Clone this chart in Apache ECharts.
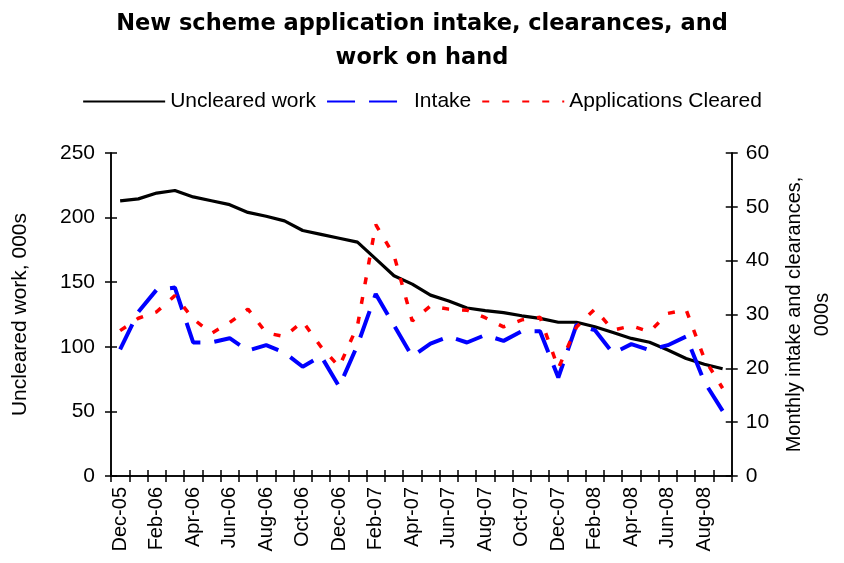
<!DOCTYPE html>
<html>
<head>
<meta charset="utf-8">
<script src="https://cdn.jsdelivr.net/npm/echarts@6/dist/echarts.min.js"></script>
<style>
  html, body { margin: 0; padding: 0; background: #fff; }
  #chart-container { width: 844px; height: 563px; }
</style>
</head>
<body>
<div id="chart-container"></div>
<script>
var dom = document.getElementById("chart-container");
var myChart = echarts.init(dom, null, { renderer: "canvas" });

// months, Dec-05 .. Sep-08
const months = [
  "Dec-05", "Jan-06", "Feb-06", "Mar-06", "Apr-06", "May-06", "Jun-06", "Jul-06",
  "Aug-06", "Sep-06", "Oct-06", "Nov-06", "Dec-06", "Jan-07", "Feb-07", "Mar-07",
  "Apr-07", "May-07", "Jun-07", "Jul-07", "Aug-07", "Sep-07", "Oct-07", "Nov-07",
  "Dec-07", "Jan-08", "Feb-08", "Mar-08", "Apr-08", "May-08", "Jun-08", "Jul-08",
  "Aug-08", "Sep-08"
];

// uncleared work (left axis, 000s)
const uncleared = [
  213, 214.5, 219, 221, 216, 213, 210, 204, 201, 197.5, 190, 187, 184, 181,
  168, 155, 148.5, 140, 135.5, 130, 128, 126.5, 124, 122, 119, 119, 115.5,
  111, 106.5, 103.5, 97.5, 91, 86.5, 83
];

// monthly intake (right axis, 000s)
const intake = [
  23.5, 30.5, 34.6, 35, 24.8, 24.8, 25.6, 23.3, 24.3, 22.9, 20.3, 22.3, 16.6,
  24.3, 33.8, 28, 22.2, 24.6, 25.9, 24.8, 26.2, 25.1, 26.9, 26.9, 18.3, 28.1,
  27.1, 22.8, 24.5, 23.4, 24.3, 25.9, 17.5, 12.1
];

// applications cleared (right axis, 000s)
const cleared = [
  27, 29.3, 30.5, 33.5, 29.2, 26.5, 28.5, 31, 26.6, 25.9, 28.7, 24, 20.3,
  27.9, 46.7, 41, 28.8, 31.6, 31, 30.8, 29.4, 27.7, 29, 29.5, 20, 27.7, 31,
  27.1, 27.9, 26.8, 30.2, 30.9, 21.8, 16.3
];

const leftTicks = [0, 250, 50];
const rightTicks = [0, 60, 10];

var font = "Arial, 'Liberation Sans', sans-serif";
var axisLine = { show: true, lineStyle: { color: "#000", width: 1.5 } };

// second axis on the same side, ticks drawn inwards so they cross the axis line
function tickAxis(side, range, inside) {
  return {
    type: "value",
    position: side,
    min: range[0],
    max: range[1],
    interval: range[2],
    axisLine: axisLine,
    axisTick: { show: true, inside: inside, length: 6, lineStyle: { color: "#000", width: 1.5 } },
    axisLabel: { show: false },
    splitLine: { show: false },
  };
}

var option = {
  backgroundColor: "#fff",
  animation: false,
  title: {
    text: "New scheme application intake, clearances, and\nwork on hand",
    left: "center",
    top: 2,
    textStyle: {
      fontFamily: "'DejaVu Sans', sans-serif",
      fontSize: 22.5,
      fontWeight: "bold",
      color: "#000",
      lineHeight: 34,
    },
  },
  legend: {
    top: 86,
    left: "center",
    itemWidth: 82,
    itemHeight: 12,
    itemGap: 10,
    itemStyle: { opacity: 0 },
    textStyle: { fontFamily: font, fontSize: 21, color: "#000" },
    data: ["Uncleared work", "Intake", "Applications Cleared"],
  },
  grid: { left: 111, right: 110, top: 153, bottom: 87 },
  xAxis: [
    {
      type: "category",
      data: months,
      boundaryGap: true,
      axisLine: axisLine,
      axisTick: { show: true, interval: 0, length: 6, lineStyle: { color: "#000", width: 1.5 } },
      axisLabel: {
        interval: 1,
        rotate: 90,
        margin: 11,
        fontFamily: font,
        fontSize: 20,
        color: "#000",
      },
      splitLine: { show: false },
    },
    {
      type: "category",
      data: months,
      position: "bottom",
      boundaryGap: true,
      axisLine: axisLine,
      axisTick: { show: true, inside: true, interval: 0, length: 6, lineStyle: { color: "#000", width: 1.5 } },
      axisLabel: { show: false },
      splitLine: { show: false },
    },
  ],
  yAxis: [
    {
      type: "value",
      position: "left",
      min: leftTicks[0],
      max: leftTicks[1],
      interval: leftTicks[2],
      name: "Uncleared work, 000s",
      nameLocation: "middle",
      nameGap: 80,
      nameTextStyle: { fontFamily: font, fontSize: 21, color: "#000" },
      axisLine: axisLine,
      axisTick: { show: true, length: 6, lineStyle: { color: "#000", width: 1.5 } },
      axisLabel: { margin: 16, fontFamily: font, fontSize: 21, color: "#000" },
      splitLine: { show: false },
    },
    {
      type: "value",
      position: "right",
      min: rightTicks[0],
      max: rightTicks[1],
      interval: rightTicks[2],
      name: "Monthly intake and clearances,\n000s",
      nameLocation: "middle",
      nameGap: 38,
      nameRotate: 90,
      nameTextStyle: { fontFamily: font, fontSize: 20, color: "#000", lineHeight: 28 },
      axisLine: axisLine,
      axisTick: { show: true, length: 6, lineStyle: { color: "#000", width: 1.5 } },
      axisLabel: { margin: 14, fontFamily: font, fontSize: 21, color: "#000" },
      splitLine: { show: false },
    },
    tickAxis("left", leftTicks, true),
    tickAxis("right", rightTicks, true),
  ],
  series: [
    {
      name: "Uncleared work",
      type: "line",
      yAxisIndex: 0,
      data: uncleared,
      symbol: "none",
      lineStyle: { color: "#000", width: 3.2 },
      itemStyle: { color: "#000" },
    },
    {
      name: "Intake",
      type: "line",
      yAxisIndex: 1,
      data: intake,
      symbol: "none",
      lineStyle: { color: "#0000ff", width: 4, type: [28, 14] },
      itemStyle: { color: "#0000ff" },
    },
    {
      name: "Applications Cleared",
      type: "line",
      yAxisIndex: 1,
      data: cleared,
      symbol: "none",
      lineStyle: { color: "#ff0000", width: 3.5, type: [7, 13] },
      itemStyle: { color: "#ff0000" },
    },
  ],
};

if (option && typeof option === "object") {
  myChart.setOption(option);
}

window.addEventListener("resize", myChart.resize);
</script>
</body>
</html>
